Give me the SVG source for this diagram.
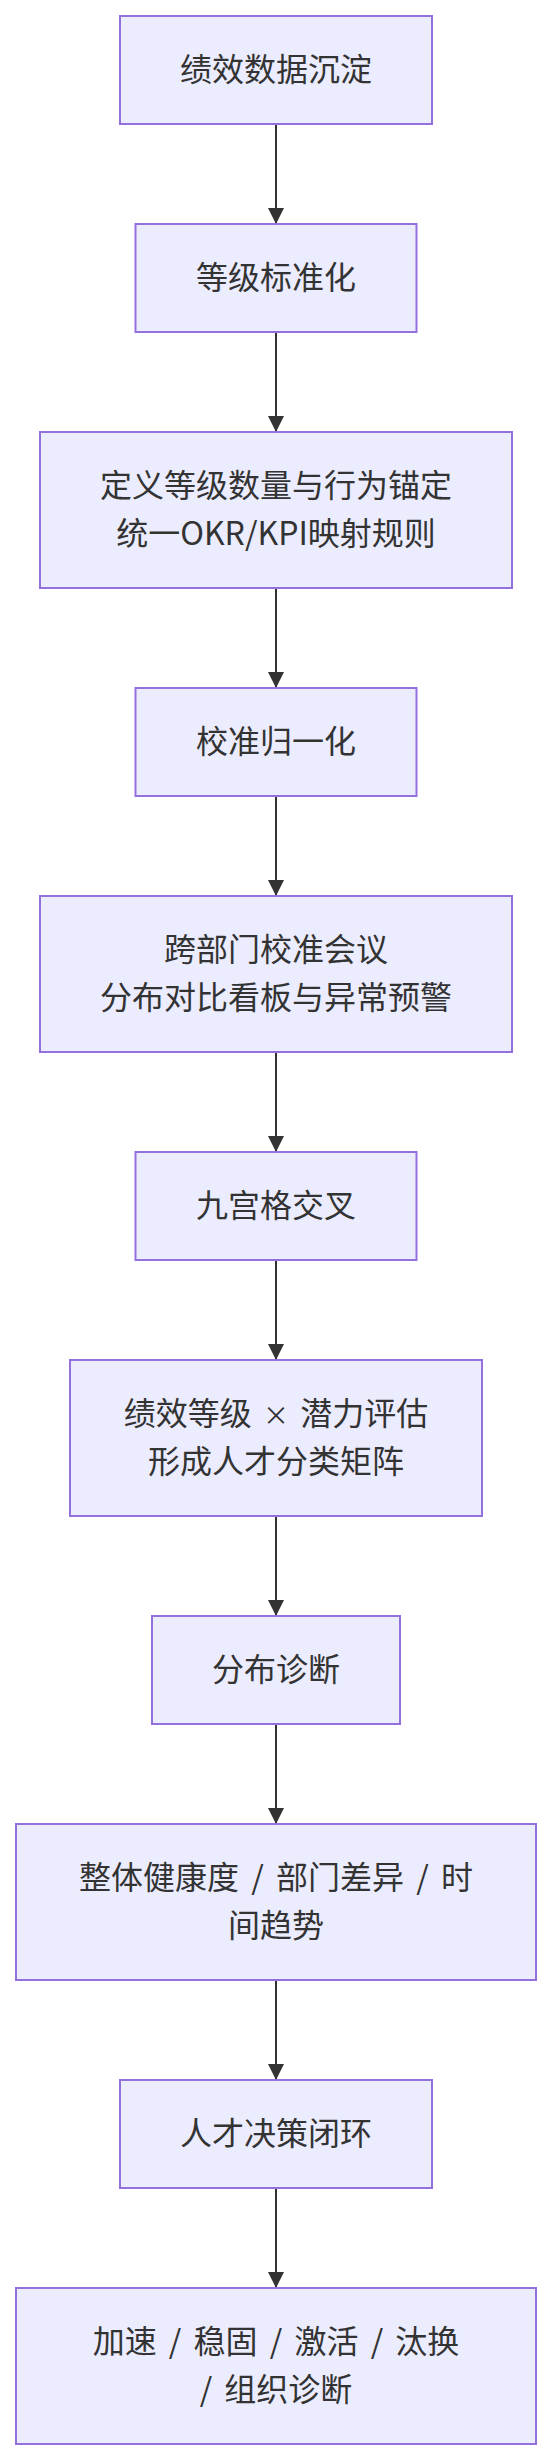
<svg xmlns="http://www.w3.org/2000/svg" width="552" height="2460" viewBox="0 0 552 2460">
<style>
.node rect{fill:#ECECFF;stroke:#9370DB;stroke-width:2}
.node text{font-family:"Noto Sans CJK SC","Noto Sans",sans-serif;font-size:32px;fill:#333333;text-anchor:middle}
.edge{stroke:#333333;stroke-width:2;fill:none}
</style>
<defs>
<marker id="arrow" markerWidth="16" markerHeight="16" refX="16" refY="8" orient="auto" markerUnits="userSpaceOnUse" viewBox="0 0 16 16">
<path d="M0,0 L16,8 L0,16 z" fill="#333333"/>
</marker>
</defs>
<rect width="552" height="2460" fill="#ffffff"/>
<g id="connectors">
<line class="edge" x1="276" y1="124" x2="276" y2="224" marker-end="url(#arrow)"/>
<line class="edge" x1="276" y1="332" x2="276" y2="432" marker-end="url(#arrow)"/>
<line class="edge" x1="276" y1="588" x2="276" y2="688" marker-end="url(#arrow)"/>
<line class="edge" x1="276" y1="796" x2="276" y2="896" marker-end="url(#arrow)"/>
<line class="edge" x1="276" y1="1052" x2="276" y2="1152" marker-end="url(#arrow)"/>
<line class="edge" x1="276" y1="1260" x2="276" y2="1360" marker-end="url(#arrow)"/>
<line class="edge" x1="276" y1="1516" x2="276" y2="1616" marker-end="url(#arrow)"/>
<line class="edge" x1="276" y1="1724" x2="276" y2="1824" marker-end="url(#arrow)"/>
<line class="edge" x1="276" y1="1980" x2="276" y2="2080" marker-end="url(#arrow)"/>
<line class="edge" x1="276" y1="2188" x2="276" y2="2288" marker-end="url(#arrow)"/>
</g>
<g id="n1" class="node"><rect x="120" y="16" width="312" height="108"/><text x="276" y="81">绩效数据沉淀</text></g>
<g id="n2" class="node"><rect x="135.5" y="224" width="281" height="108"/><text x="276" y="289">等级标准化</text></g>
<g id="n3" class="node"><rect x="40" y="432" width="472" height="156"/><text x="276" y="497">定义等级数量与行为锚定</text><text x="276" y="545">统一OKR/KPI映射规则</text></g>
<g id="n4" class="node"><rect x="135.5" y="688" width="281" height="108"/><text x="276" y="753">校准归一化</text></g>
<g id="n5" class="node"><rect x="40" y="896" width="472" height="156"/><text x="276" y="961">跨部门校准会议</text><text x="276" y="1009">分布对比看板与异常预警</text></g>
<g id="n6" class="node"><rect x="135.5" y="1152" width="281" height="108"/><text x="276" y="1217">九宫格交叉</text></g>
<g id="n7" class="node"><rect x="70" y="1360" width="412" height="156"/><text x="276" y="1425">绩效等级 <tspan dx="4" font-size="26">×</tspan> <tspan dx="4">潜力评估</tspan></text><text x="276" y="1473">形成人才分类矩阵</text></g>
<g id="n8" class="node"><rect x="152" y="1616" width="248" height="108"/><text x="276" y="1681">分布诊断</text></g>
<g id="n9" class="node"><rect x="16" y="1824" width="520" height="156"/><text x="276" y="1889">整体健康度 <tspan dx="5">/</tspan> <tspan dx="5">部门差异</tspan> <tspan dx="5">/</tspan> <tspan dx="5">时</tspan></text><text x="276" y="1937">间趋势</text></g>
<g id="n10" class="node"><rect x="120" y="2080" width="312" height="108"/><text x="276" y="2145">人才决策闭环</text></g>
<g id="n11" class="node"><rect x="16" y="2288" width="520" height="156"/><text x="276" y="2353">加速 <tspan dx="5">/</tspan> <tspan dx="5">稳固</tspan> <tspan dx="5">/</tspan> <tspan dx="5">激活</tspan> <tspan dx="5">/</tspan> <tspan dx="5">汰换</tspan></text><text x="276" y="2401">/ <tspan dx="5">组织诊断</tspan></text></g>
</svg>
